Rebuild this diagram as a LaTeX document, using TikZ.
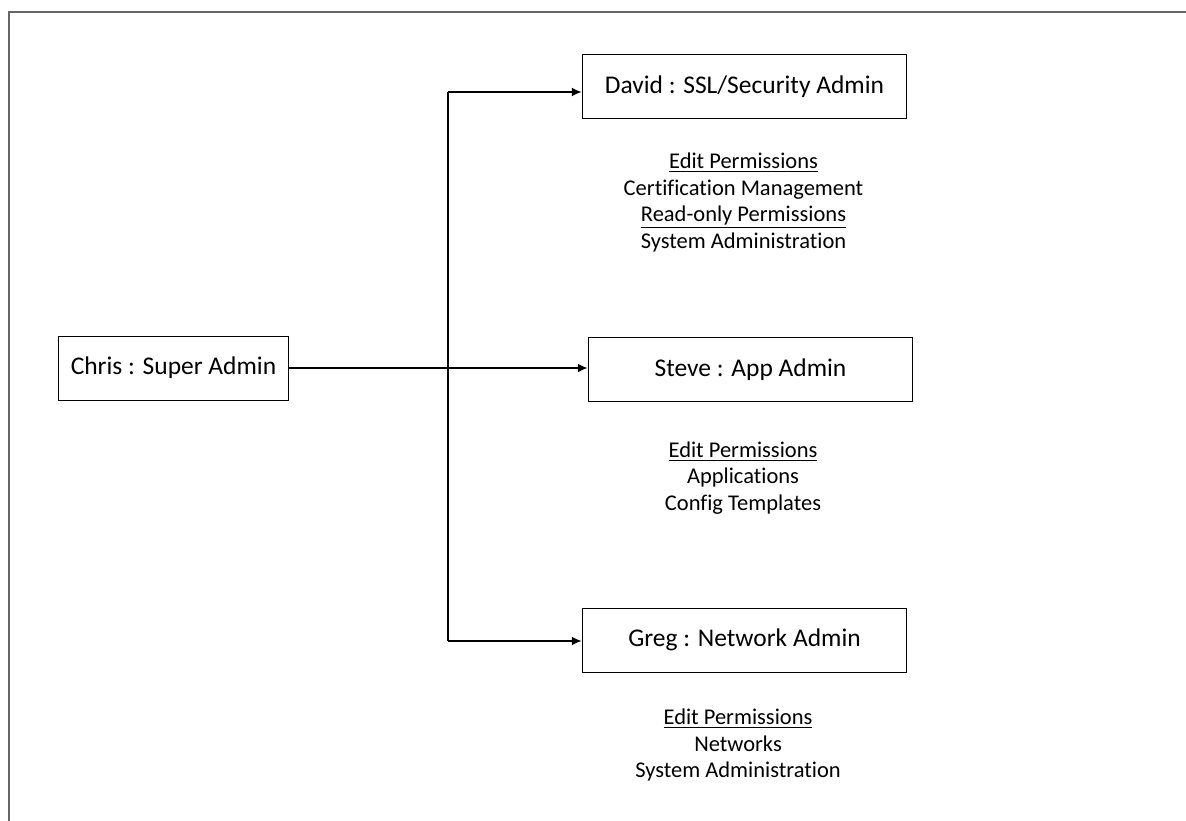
\documentclass[tikz,border=0pt]{standalone}
\usepackage{fontspec}
\setmainfont{Carlito}[Ligatures=NoCommon]
\usetikzlibrary{arrows.meta, positioning}

\begin{document}
\begin{tikzpicture}[x=0.02cm, y=-0.02cm,
    role/.style={draw, line width=0.55pt, minimum width=6.5cm, minimum height=1.28cm, inner sep=0pt, font=\fontsize{14.5}{17}\selectfont},
    perm/.style={align=center, inner sep=0pt, font=\fontsize{12.8}{15}\selectfont},
    link/.style={line width=0.75pt, -{Latex[length=5.5pt, width=5pt]}}]
    \useasboundingbox (0,0) rectangle (1186,821);
    % Draw the page frame
    \draw[line width=1.1pt, black!60] (1186,12) -- (9,12) -- (9,821);
    % Draw the admin boxes
    \node[role, minimum width=4.62cm] (chris) at (173.5,368) {Chris : Super Admin};
    \node[role] (david) at (744.5,86.5) {David : SSL/Security Admin};
    \node[role] (steve) at (750.5,369.5) {Steve : App Admin};
    \node[role] (greg) at (744.5,640) {Greg : Network Admin};
    % Draw the permission lists
    \node[perm] (davidperm) at (743.5,202.5) {\underline{Edit Permissions}\\Certification Management\\\underline{Read-only Permissions}\\System Administration};
    \node[perm] (steveperm) at (743,478) {\underline{Edit Permissions}\\Applications\\Config Templates};
    \node[perm] (gregperm) at (738,745) {\underline{Edit Permissions}\\Networks\\System Administration};
    % Draw the connectors
    \coordinate (top) at (448,92);
    \coordinate (bot) at (448,641);
    \draw[link] (chris.east) -- (chris.east -| steve.west);
    \draw[line width=0.75pt] (top) -- (bot);
    \draw[link] (top) -- (top -| david.west);
    \draw[link] (bot) -- (bot -| greg.west);
\end{tikzpicture}
\end{document}
